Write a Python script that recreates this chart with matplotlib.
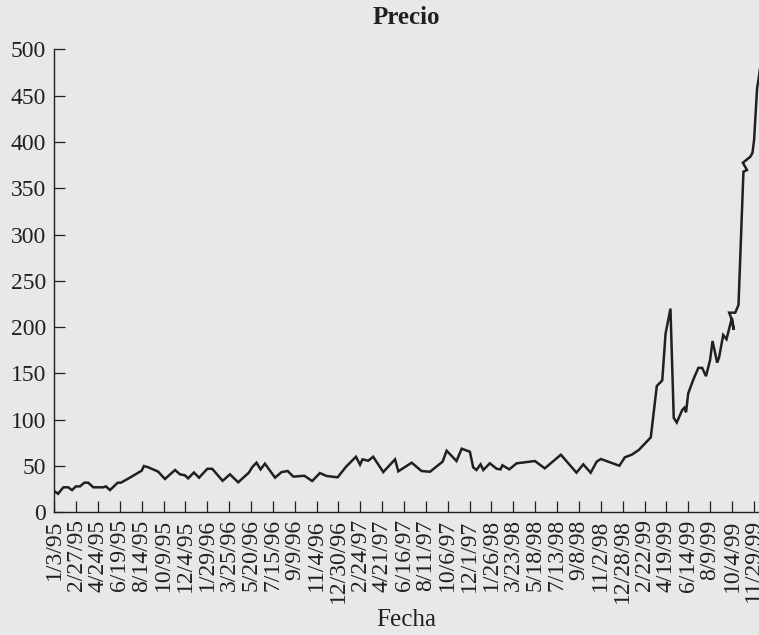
import matplotlib
matplotlib.use('Agg')
import matplotlib.pyplot as plt

# weeks since 1/3/95 and price
semana = [0, 1.4, 3.3, 5.1, 6.5, 7.9, 9.4, 11, 12.4, 14.3, 17.9, 18.9, 20.4, 23.2, 24.4,
          28, 32, 32.8, 34.4, 38, 40.5, 44.2, 46, 47.8, 49, 51.1, 53, 56, 57.8, 61.6,
          64.3, 67.3, 71.2, 72.5, 74, 75.5, 77.1, 80.8, 83.2, 85.4, 87.5, 91.5, 94.4,
          97.2, 99.7, 103.7, 106.7, 110.4, 111.9, 112.8, 114.9, 116.7, 120.4, 124.7,
          125.9, 130.8, 134.4, 137.5, 142.1, 143.6, 147.2, 149.1, 152.1, 153.3, 154.5,
          156, 157, 159.4, 161.9, 163.3, 164, 166.5, 169.2, 175.9, 179.5, 185.4, 191.1,
          193.6, 196.3, 198.5, 200, 206.8, 208.8, 211.3, 213.9, 218.3, 220.5, 222.5,
          223.7, 225.5, 226.7, 227.8, 229.8, 230.6, 231.2, 232, 233.8, 235.7, 237.1,
          238.5, 240, 240.9, 242.6, 243.3, 244.8, 246, 248, 248.7, 247.7, 247,
          249.2, 250.4, 252.2, 253.5, 252, 254.7, 255.5, 256.1, 257.2, 257.8, 258.2]
precio = [23, 20, 27, 27, 24, 28, 28, 32, 32, 27, 27, 28, 24, 32, 32,
          38, 45, 50, 48.6, 44, 36, 45.7, 41, 40, 36.7, 43, 37.4, 47, 47, 34,
          41, 32.4, 42.8, 49, 53.6, 46.4, 52.5, 37.4, 43.5, 44.6, 38.5, 39.5, 33.8,
          42.4, 39.2, 37.8, 49, 60, 51.4, 57.2, 55.7, 60, 43.5, 57.2,
          44.3, 53.6, 44.6, 43.8, 54.7, 66.5, 55.4, 68.7, 65.4, 48.6, 45.7,
          51.8, 45.7, 52.9, 47, 46.4, 50.8, 46.4, 52.9, 55.4, 47.5, 62.2, 42.8,
          51.8, 42.8, 54.7, 57.6, 50.3, 59.4, 62.2, 67.3, 81, 136.4, 142.5,
          193, 220, 102, 97, 110.5, 113, 108, 128.5, 142.9, 156, 156,
          147, 164.5, 185, 161.6, 167.4, 191.5, 187, 210, 197, 210, 215.6,
          215.6, 224, 367.8, 369.7, 377.5, 384, 388, 402, 458, 469, 478]

fechas = ['1/3/95', '2/27/95', '4/24/95', '6/19/95', '8/14/95', '10/9/95', '12/4/95',
          '1/29/96', '3/25/96', '5/20/96', '7/15/96', '9/9/96', '11/4/96', '12/30/96',
          '2/24/97', '4/21/97', '6/16/97', '8/11/97', '10/6/97', '12/1/97', '1/26/98',
          '3/23/98', '5/18/98', '7/13/98', '9/8/98', '11/2/98', '12/28/98', '2/22/99',
          '4/19/99', '6/14/99', '8/9/99', '10/4/99', '11/29/99']

tinta = '#231f20'
fondo = '#e8e8e8'
plt.rcParams['font.family'] = ['Liberation Serif', 'DejaVu Serif']

fig = plt.figure(figsize=(7.59, 6.35), dpi=100, facecolor=fondo)
ax = fig.add_axes([0.0715, 0.1932, 0.9285, 0.7291])
ax.set_facecolor(fondo)

ax.plot(semana, precio, color=tinta, linewidth=1.8, solid_joinstyle='miter')

ax.set_xlim(0, 257.9)
ax.set_ylim(0, 500)
ax.set_yticks(range(0, 501, 50))
ax.set_xticks([8 * i for i in range(len(fechas))])
ax.set_xticklabels(fechas, rotation=90)

for s in ['top', 'right']:
    ax.spines[s].set_visible(False)
for s in ['left', 'bottom']:
    ax.spines[s].set_color(tinta)
    ax.spines[s].set_linewidth(1.0)

ax.tick_params(axis='both', direction='in', length=7.7, width=0.9, color=tinta,
               labelcolor=tinta, labelsize=17)
ax.tick_params(axis='x', pad=5)
ax.tick_params(axis='y', pad=6)

ax.set_title('Precio', fontsize=18, fontweight='bold', color=tinta, pad=18)
ax.set_xlabel('Fecha', fontsize=18, color=tinta)
ax.xaxis.set_label_coords(0.5, -0.209)

fig.savefig('out.png', dpi=100, facecolor=fondo)
